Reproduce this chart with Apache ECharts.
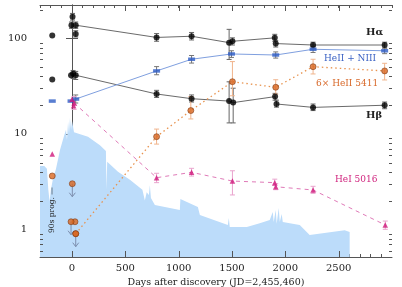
<!DOCTYPE html>
<html><head><meta charset="utf-8">
<script src="https://cdn.jsdelivr.net/npm/echarts@6/dist/echarts.min.js"></script>
<style>html,body{margin:0;padding:0;background:#fff}#c{width:402px;height:287px}</style>
</head><body><div id="c"></div>
<script>
// ---- data (days after discovery, EW in Angstroms) ----
const haEarly = [[-185,107],[5,168],[-5,137],[35,111]];
const haMain = [[35,137],[793,102],[1121,105],[1473,90],[1504,93],[1901,101],[1910,88],[2260,85],[2931,85]];
const haErr = [[5,155,182],[-5,127,148],[35,127,148],[35,103,120],[793,93,112],[1121,96,115],[1473,60,124],[1504,85,101],[1901,93,110],[1910,81,95],[2260,79,91],[2931,79,91]];

const hbEarly = [[-185,37],[-9,41],[10,42.5]];
const hbMain = [[35,41],[793,26.1],[1121,23.3],[1473,22.0],[1511,21.2],[1904,24.5],[1917,20.5],[2260,18.9],[2931,19.9]];
const hbErr = [[10,38,46],[35,37,45],[793,24,28.5],[1121,21.5,25.5],[1473,13,35],[1511,13,30],[1904,22.5,26.5],[1917,19,22.5],[2260,17.5,20.5],[2931,18.3,21.5]];

const heiiEarly = [[-185,22],[-9,22]];
const heiiMain = [[35,23.1],[793,45.5],[1121,60.3],[1495,68.5],[1910,66.8],[2260,76.7],[2931,74]];
const heiiErr = [[35,21,25.5],[793,41.5,50.5],[1121,55,66],[1495,63,74],[1910,62,72],[2260,71,82],[2931,69,79]];

const he5411Early = [[-185,3.62],[28,1.2]];
const he5411Limits = [[3,3.0],[-9,1.2],[35,0.9]];
const he5411Main = [[35,0.9],[793,9.33],[1114,17.5],[1504,35.1],[1910,30.7],[2260,50.4],[2931,45.5]];
const he5411Err = [[793,7.8,11.2],[1114,14.3,24.5],[1504,25,57],[1910,26,36.8],[2260,42.3,60.3],[2931,36.6,54.7]];

const he5016Early = [[-185,6.15],[0,23],[15,19.6]];
const he5016Main = [[20,21],[793,3.47],[1121,3.95],[1504,3.2],[1901,3.08],[1910,2.79],[2260,2.58],[2937,1.11]];
const he5016Err = [[20,18,24.5],[793,3.08,3.86],[1121,3.61,4.35],[1504,2.29,4.1],[1901,2.88,3.35],[1910,2.6,3.0],[2260,2.38,2.82],[2937,1.0,1.22]];

const progDays = [-300,-260,-235,-222,-210,-198,-180,-150,-112,-75,-56,-47,-37,-28,-19,-9,0,19,150,262,318,323,330,431,543,660,683,700,721,730,740,777,1011,1016,1180,1199,1461,1470,1479,1639,1760,1854,1882,1891,1910,1919,1938,1948,1966,1976,2135,2228,2556,2603];
const progEW = [4.6,4.6,4.3,2.6,1.95,2.6,3.3,4.3,6.8,9.5,11,8.6,13.3,10,14.6,11,13.6,10.4,9.3,7.6,6.6,2.6,5.1,4.0,3.3,2.6,2.0,2.45,2.29,2.9,2.13,1.80,1.59,2.08,1.71,1.41,1.11,1.31,1.06,1.06,1.16,1.25,1.52,1.19,1.59,1.14,1.67,1.19,1.45,1.19,1.11,0.87,0.98,0.94];

const xTickLabels = [0,500,1000,1500,2000,2500];
const yTickLabels = [1,10,100];
const yMinorTicks = [0.6,0.7,0.8,0.9,2,3,4,5,6,7,8,9,20,30,40,50,60,70,80,90,200];

// ---- chart ----
const FONT = 'DejaVu Serif';
const chart = echarts.init(document.getElementById('c'), null, {renderer:'canvas'});

function errRender(color) {
  return function (params, api) {
    const x = api.value(0), lo = api.value(1), hi = api.value(2);
    const p1 = api.coord([x, lo]), p2 = api.coord([x, hi]);
    const w = 2.5, st = {stroke: color, lineWidth: 1};
    return {type:'group', children:[
      {type:'line', shape:{x1:p1[0],y1:p1[1],x2:p2[0],y2:p2[1]}, style:st},
      {type:'line', shape:{x1:p1[0]-w,y1:p1[1],x2:p1[0]+w,y2:p1[1]}, style:st},
      {type:'line', shape:{x1:p2[0]-w,y1:p2[1],x2:p2[0]+w,y2:p2[1]}, style:st}
    ]};
  };
}
function errSeries(data, color) {
  return {type:'custom', data:data, renderItem: errRender(color), encode:{x:0,y:[1,2]}, z:3, silent:true};
}
function arrowRender(params, api) {
  const p = api.coord([api.value(0), api.value(1)]);
  const L = 13, st = {stroke:'#7d8fae', lineWidth:1, fill:null};
  return {type:'group', children:[
    {type:'line', shape:{x1:p[0],y1:p[1],x2:p[0],y2:p[1]+L}, style:st},
    {type:'polyline', shape:{points:[[p[0]-3,p[1]+L-4],[p[0],p[1]+L],[p[0]+3,p[1]+L-4]]}, style:st}
  ]};
}
const tickData = yMinorTicks.map(v => [0, v, 0]).concat(xTickLabels.map(d => [d, 1, 1]));
function tickRender(params, api) {
  const cs = params.coordSys, st = {stroke:'#555', lineWidth:1};
  if (api.value(2) === 0) {
    const y = Math.round(api.coord([0, api.value(1)])[1]) + 0.5;
    return {type:'group', children:[
      {type:'line', shape:{x1:cs.x, y1:y, x2:cs.x+3, y2:y}, style:st},
      {type:'line', shape:{x1:cs.x+cs.width-3, y1:y, x2:cs.x+cs.width, y2:y}, style:st}
    ]};
  }
  const x = Math.round(api.coord([api.value(0), 1])[0]) + 0.5;
  return {type:'group', children:[
    {type:'line', shape:{x1:x, y1:cs.y+cs.height, x2:x, y2:cs.y+cs.height-6}, style:st},
    {type:'line', shape:{x1:x, y1:cs.y, x2:x, y2:cs.y+6}, style:st}
  ]};
}

const axisLine = {show:true, lineStyle:{color:'#555', width:1}};
const xCommon = {type:'value', min:-300, max:3000, interval:100, splitLine:{show:false}, axisLine:axisLine,
  axisTick:{show:true, inside:true, length:3, lineStyle:{color:'#555'}}};
const yCommon = {type:'log', logBase:10, min:0.513, max:223, splitLine:{show:false}, axisLine:axisLine,
  axisTick:{show:true, inside:true, length:6, lineStyle:{color:'#555'}}};

const circle = (fill, border) => ({color:fill, borderColor:border, borderWidth:0.7});

const option = {
  animation:false,
  backgroundColor:'#fff',
  grid:{left:40, right:10, top:5, bottom:30, containLabel:false, outerBoundsMode:'none'},
  xAxis:[
    Object.assign({}, xCommon, {position:'bottom',
      name:'Days after discovery (JD=2,455,460)', nameLocation:'middle', nameGap:18,
      nameTextStyle:{fontFamily:FONT, fontSize:9.5, color:'#222'},
      axisLabel:{fontFamily:FONT, fontSize:10, color:'#222', margin:6, showMinLabel:false, showMaxLabel:false,
        formatter: v => (xTickLabels.indexOf(v) >= 0 ? String(v) : '')}}),
    Object.assign({}, xCommon, {position:'top', axisLabel:{show:false}})
  ],
  yAxis:[
    Object.assign({}, yCommon, {position:'left',
      name:'EW (Angstroms)', nameLocation:'middle', nameGap:29,
      nameTextStyle:{fontFamily:FONT, fontSize:9.5, color:'#222'},
      axisLabel:{fontFamily:FONT, fontSize:10, color:'#222', margin:13, showMinLabel:false, showMaxLabel:false,
        formatter: v => { const r = yTickLabels.find(t => Math.abs(t - v) / t < 1e-6); return r ? String(r) : ''; }}}),
    Object.assign({}, yCommon, {position:'right', axisLabel:{show:false}})
  ],
  series:[
    {type:'line', data: progDays.map((d,i) => [d, progEW[i]]), symbol:'none', silent:true,
      lineStyle:{width:0}, areaStyle:{color:'#bcdcfa', opacity:1, origin:'start'}, z:1},
    {type:'custom', data: tickData, renderItem: tickRender, encode:{x:0,y:1}, z:10, silent:true, clip:false},
    // lines
    {type:'line', data: haMain, symbol:'none', lineStyle:{color:'#444', width:0.8}, z:2},
    {type:'line', data: hbMain, symbol:'none', lineStyle:{color:'#444', width:0.8}, z:2},
    {type:'line', data: heiiMain, symbol:'none', lineStyle:{color:'#7f9fdf', width:1}, z:2},
    {type:'line', data: he5411Main, symbol:'none', lineStyle:{color:'#e8934f', width:1.3, type:[1.5,3]}, z:2},
    {type:'line', data: he5016Main, symbol:'none', lineStyle:{color:'#e07ab8', width:1, type:[4,4]}, z:2},
    // error bars
    errSeries(haErr, '#666'), errSeries(hbErr, '#666'), errSeries(heiiErr, '#777'),
    errSeries(he5411Err, '#f0b48c'), errSeries(he5016Err, '#e9a3cd'),
    {type:'custom', data: he5411Limits, renderItem: arrowRender, encode:{x:0,y:1}, z:3, silent:true},
    // markers
    {type:'scatter', data: haEarly.concat(haMain), symbol:'circle', symbolSize:6, itemStyle:{color:'#000'}, z:5},
    {type:'scatter', data: hbEarly.concat(hbMain), symbol:'circle', symbolSize:6, itemStyle:{color:'#000'}, z:5},
    {type:'scatter', data: heiiEarly.concat(heiiMain), symbol:'rect', symbolSize:[7,3.5], itemStyle:{color:'#2f5ec6'}, z:5},
    {type:'scatter', data: he5411Early.concat(he5411Limits, he5411Main), symbol:'circle', symbolSize:6, itemStyle:circle('#d9661f','#7a3510'), z:5},
    {type:'scatter', data: he5016Early.concat(he5016Main), symbol:'triangle', symbolSize:5.5, itemStyle:{color:'#d0187c'}, z:5}
  ],
  graphic:[
    {type:'text', z:100, left:366, top:27, style:{text:'Hα', font:'bold 10px "DejaVu Serif"', fill:'#222'}},
    {type:'text', z:100, left:366, top:110, style:{text:'Hβ', font:'bold 10px "DejaVu Serif"', fill:'#222'}},
    {type:'text', z:100, left:324, top:54, style:{text:'HeII + NIII', font:'9px "DejaVu Serif"', fill:'#3b62c4'}},
    {type:'text', z:100, left:316, top:79, style:{text:'6× HeII 5411', font:'9px "DejaVu Serif"', fill:'#d8692a'}},
    {type:'text', z:100, left:335, top:175, style:{text:'HeI 5016', font:'9px "DejaVu Serif"', fill:'#d0247e'}},
    {type:'text', z:100, x:52, y:233, rotation:Math.PI/2,
      style:{text:'90s prog. —', font:'7.5px "DejaVu Serif"', fill:'#222', align:'left', verticalAlign:'middle'}}
  ]
};
chart.setOption(option);
</script></body></html>
